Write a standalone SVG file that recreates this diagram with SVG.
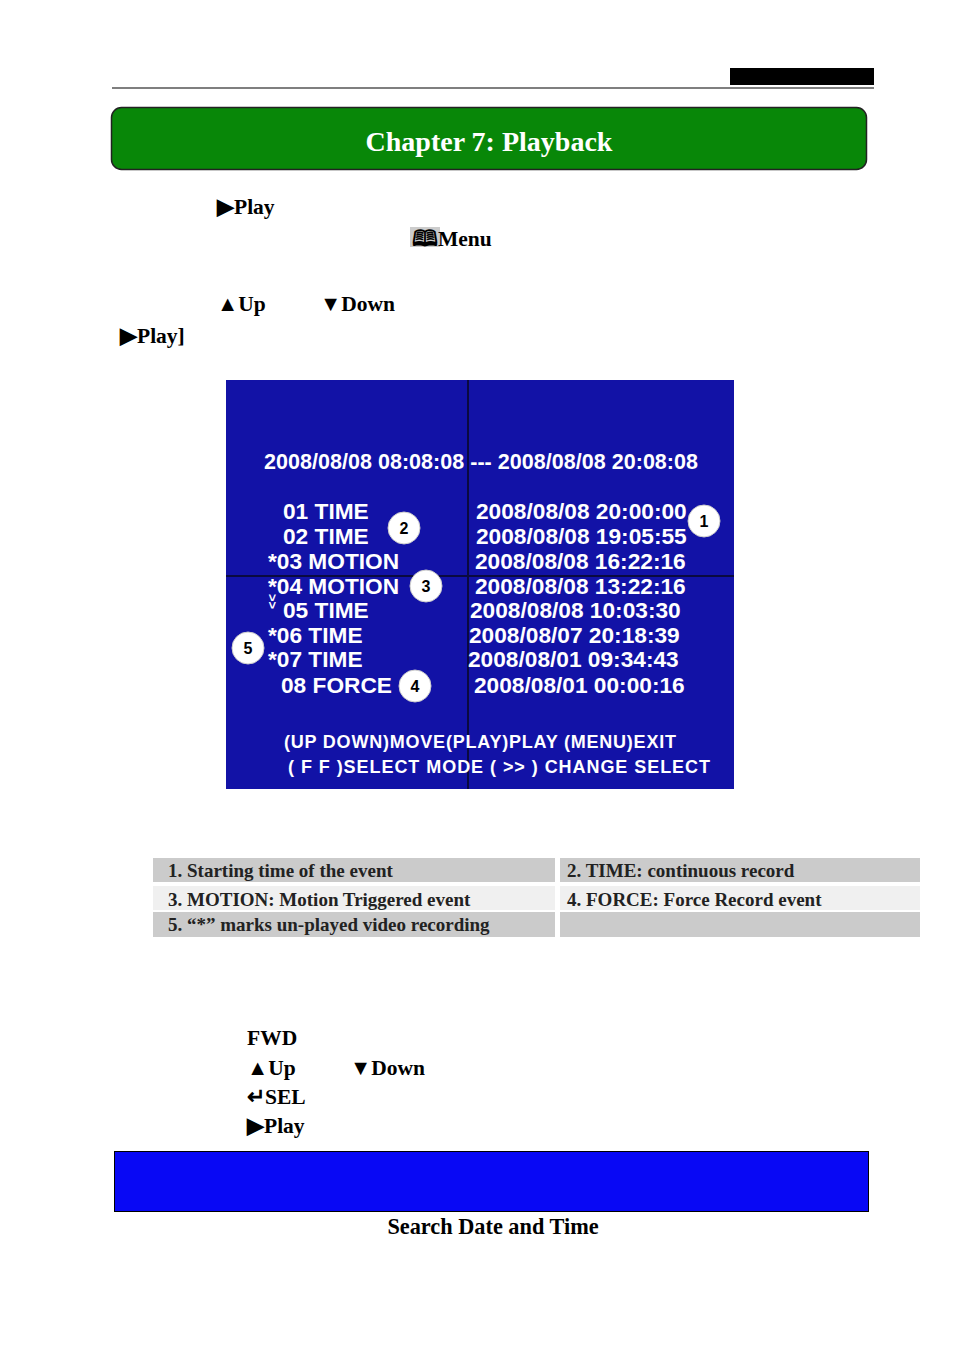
<svg xmlns="http://www.w3.org/2000/svg" width="954" height="1350" viewBox="0 0 954 1350">
<style>
.t{font-family:"Liberation Serif",serif;font-weight:bold;font-size:21.5px;fill:#000}
.c{font-family:"Liberation Serif",serif;font-weight:bold;font-size:19px;fill:#222}
.s{font-family:"Liberation Sans",Arial,sans-serif;font-weight:bold;font-size:22.7px;fill:#fff}
.f{font-family:"Liberation Sans",Arial,sans-serif;font-weight:bold;font-size:18px;fill:#fff}
.n{font-family:"Liberation Sans",Arial,sans-serif;font-weight:bold;font-size:16px;fill:#000;text-anchor:middle}
</style>
<rect width="954" height="1350" fill="#fff"/>
<line x1="112" y1="88" x2="874" y2="88" stroke="#000" stroke-width="1.2"/>
<rect x="730" y="68" width="144" height="17" fill="#000"/>
<g id="title"><rect x="111.5" y="107.5" width="755" height="62" rx="10" fill="#088708" stroke="#222" stroke-width="1.5"/>
<text x="489" y="151" text-anchor="middle" style="font-family:'Liberation Serif',serif;font-weight:bold;font-size:28px;fill:#fff">Chapter 7: Playback</text></g>
<text class="t" x="217" y="214">▶Play</text>
<rect x="410" y="227" width="30" height="20" fill="#ccc"/>
<text class="t" x="412" y="246">🕮Menu</text>
<text class="t" x="217" y="311">▲Up</text>
<text class="t" x="320" y="311">▼Down</text>
<text class="t" x="120" y="343">▶Play]</text>
<g id="screen">
<rect x="226" y="380" width="508" height="409" fill="#1212a6"/>
<line x1="468" y1="380" x2="468" y2="789" stroke="#0a0a40" stroke-width="2"/>
<line x1="226" y1="576" x2="734" y2="576" stroke="#0a0a40" stroke-width="2"/>
<text class="s" x="264" y="469" style="font-size:21.5px" textLength="434">2008/08/08 08:08:08 --- 2008/08/08 20:08:08</text>
<text class="s" x="283" y="519">01 TIME</text>
<text class="s" x="283" y="544">02 TIME</text>
<text class="s" x="268" y="569">*03 MOTION</text>
<text class="s" x="268" y="594">*04 MOTION</text>
<text class="s" x="283" y="618">05 TIME</text>
<text class="s" x="268" y="643">*06 TIME</text>
<text class="s" x="268" y="667">*07 TIME</text>
<text class="s" x="281" y="693">08 FORCE</text>
<text class="f" x="268" y="594" transform="rotate(90 268 594)" style="font-size:13px">&gt;&gt;</text>
<text class="s" x="476" y="519">2008/08/08 20:00:00</text>
<text class="s" x="476" y="544">2008/08/08 19:05:55</text>
<text class="s" x="475" y="569">2008/08/08 16:22:16</text>
<text class="s" x="475" y="594">2008/08/08 13:22:16</text>
<text class="s" x="470" y="618">2008/08/08 10:03:30</text>
<text class="s" x="469" y="643">2008/08/07 20:18:39</text>
<text class="s" x="468" y="667">2008/08/01 09:34:43</text>
<text class="s" x="474" y="693">2008/08/01 00:00:16</text>
<text class="f" x="284" y="748" textLength="392">(UP DOWN)MOVE(PLAY)PLAY (MENU)EXIT</text>
<text class="f" x="288" y="773" textLength="422">( F F )SELECT MODE ( &gt;&gt; )  CHANGE  SELECT</text>
<g fill="#fff" stroke="#ccc">
<circle cx="704" cy="521" r="16"/><circle cx="404" cy="528" r="16"/><circle cx="426" cy="586" r="16"/><circle cx="415" cy="686" r="16"/><circle cx="248" cy="648" r="16"/></g>
<text class="n" x="704" y="527">1</text><text class="n" x="404" y="534">2</text><text class="n" x="426" y="592">3</text><text class="n" x="415" y="692">4</text><text class="n" x="248" y="654">5</text>
</g>
<g id="legend">
<rect x="153" y="858" width="402" height="24" fill="#cbcbcb"/><rect x="560" y="858" width="360" height="24" fill="#cbcbcb"/>
<rect x="153" y="886" width="402" height="24" fill="#f0f0f0"/><rect x="560" y="886" width="360" height="24" fill="#f0f0f0"/>
<rect x="153" y="912" width="402" height="25" fill="#cbcbcb"/><rect x="560" y="912" width="360" height="25" fill="#cbcbcb"/>
<text class="c" x="168" y="877">1. Starting time of the event</text>
<text class="c" x="567" y="877">2. TIME: continuous record</text>
<text class="c" x="168" y="906">3. MOTION: Motion Triggered event</text>
<text class="c" x="567" y="906">4. FORCE: Force Record event</text>
<text class="c" x="168" y="931">5. “*” marks un-played video recording</text>
</g>
<text class="t" x="247" y="1045">FWD</text>
<text class="t" x="247" y="1075">▲Up</text>
<text class="t" x="350" y="1075">▼Down</text>
<text class="t" x="247" y="1104">↵SEL</text>
<text class="t" x="247" y="1133">▶Play</text>
<rect x="114.5" y="1151.5" width="754" height="60" fill="#0808f5" stroke="#000" stroke-width="1"/>
<text class="t" x="493" y="1234" text-anchor="middle" style="font-size:22.3px">Search Date and Time</text>
</svg>
